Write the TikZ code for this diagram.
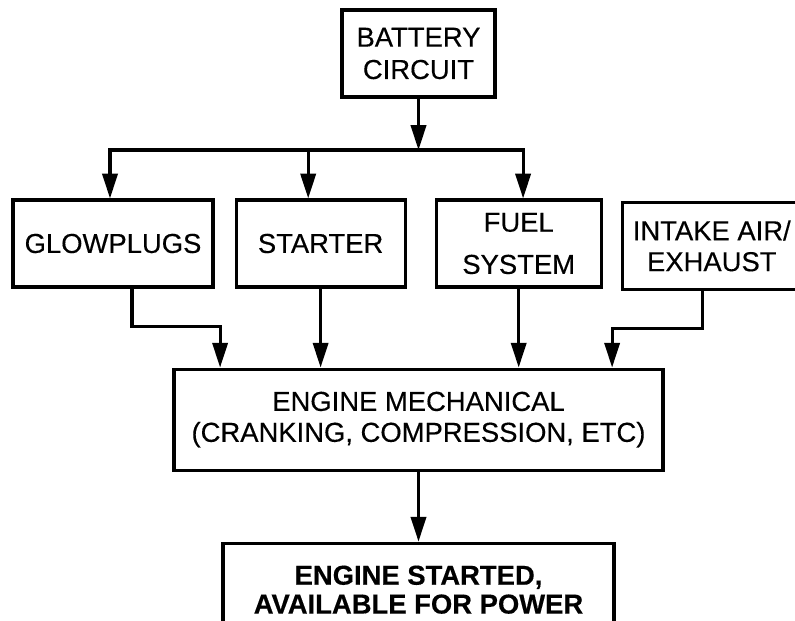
\documentclass[tikz,border=0pt]{standalone}
\usepackage{fontspec}
\setmainfont[FakeBold=0.35]{Liberation Sans}
\usetikzlibrary{positioning,arrows.meta}
\tikzset{
  blk/.style={rectangle, draw=black, line width=2.2pt, minimum height=21.75mm,
              align=center, inner sep=2pt, font=\fontsize{19.5}{22}\selectfont},
  flow/.style={-{Triangle[length=6.2mm,width=3.8mm]}, draw=black, line width=2.2pt},
}
\begin{document}
\begin{tikzpicture}[x=0.25mm, y=-0.25mm]
  \useasboundingbox (0,0) rectangle (795,620);
  \clip (0,0) rectangle (795,620);

  % --- supply and the four systems it feeds --------------------------------
  \node[blk, minimum width=38.25mm] (battery) at (418.5,53.5) {BATTERY\\[1pt]CIRCUIT};
  \node[blk, minimum width=50mm] (glow) at (113,243.5) {GLOWPLUGS};
  \node[blk, minimum width=42.25mm, right=5mm of glow] (starter) {STARTER};
  \node[blk, minimum width=41.25mm, right=7mm of starter] (fuel) {FUEL\\[8pt]SYSTEM};
  \node[blk, minimum width=44.75mm, right=4.5mm of fuel, yshift=-0.6mm] (intake) {INTAKE AIR/\\EXHAUST};

  % --- the engine and the result --------------------------------------------
  \node[blk, minimum width=122.25mm, minimum height=25.25mm, below=67.25mm of battery] (engine)
       {ENGINE MECHANICAL\\(CRANKING, COMPRESSION, ETC)};
  \node[blk, minimum width=97.75mm, minimum height=23.25mm, below=17.5mm of engine,
        font=\fontsize{19.5}{22}\selectfont\bfseries] (started)
       {ENGINE STARTED,\\[-1.5pt]AVAILABLE FOR POWER};

  % --- battery feed line ----------------------------------------------------
  \coordinate (bus) at (418.5,150);
  \draw[flow] (battery) -- (bus);
  \draw[flow] (bus) -| ([xshift=-0.75mm]glow.north);
  \draw[flow] (bus) -| ([xshift=-3.1mm]starter.north);
  \draw[flow] (bus) -| ([xshift=1.1mm]fuel.north);

  % --- into the engine --------------------------------------------------------
  \draw[flow] ([xshift=4.75mm]glow.south) -- ++(0,38) -| ([xshift=-49.6mm]engine.north);
  \draw[flow] (starter) -- (starter |- engine.north);
  \draw[flow] (fuel) -- (fuel |- engine.north);
  \draw[flow] ([xshift=-2.4mm]intake.south) -- ++(0,38) -| ([xshift=48.4mm]engine.north);
  \draw[flow] (engine) -- (started);
\end{tikzpicture}
\end{document}
